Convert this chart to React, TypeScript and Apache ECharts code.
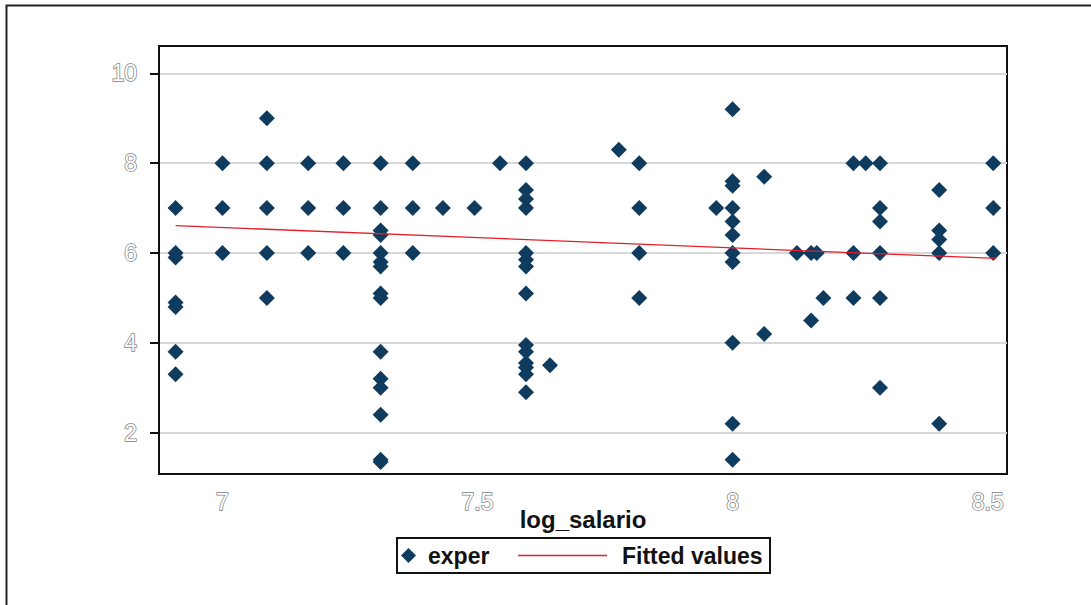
import React, { useEffect, useRef } from "react";
import * as echarts from "echarts";

// log_salario columns and the exper values found at each column
const logSalario: number[] = [
  6.908, 7.0, 7.087, 7.168, 7.237, 7.31, 7.373, 7.432, 7.494, 7.544, 7.595,
  7.642, 7.777, 7.817, 7.968, 8.0, 8.062, 8.126, 8.154, 8.165, 8.178, 8.237,
  8.261, 8.289, 8.405, 8.511,
];
const experByColumn: number[][] = [
  [7, 6, 5.9, 4.9, 4.8, 3.8, 3.3],
  [8, 7, 6],
  [9, 8, 7, 6, 5],
  [8, 7, 6],
  [8, 7, 6],
  [8, 7, 6.5, 6.4, 6, 5.8, 5.7, 5.1, 5.0, 3.8, 3.2, 3.0, 2.4, 1.4, 1.35],
  [8, 7, 6],
  [7],
  [7],
  [8],
  [8, 7.4, 7.2, 7.0, 6.0, 5.85, 5.7, 5.1, 3.95, 3.8, 3.55, 3.45, 3.3, 2.9],
  [3.5],
  [8.3],
  [8, 7, 6, 5],
  [7],
  [9.2, 7.6, 7.5, 7.0, 6.7, 6.4, 6.0, 5.8, 4.0, 2.2, 1.4],
  [7.7, 4.2],
  [6],
  [6, 4.5],
  [6],
  [5],
  [8, 6, 5],
  [8],
  [8, 7, 6.7, 6, 5, 3.0],
  [7.4, 6.5, 6.3, 6, 2.2],
  [8, 7, 6],
];
const fittedX: number[] = [6.908, 8.517];
const fittedY: number[] = [6.61, 5.88];
const xTicks: number[] = [7, 7.5, 8, 8.5];
const yTicks: number[] = [2, 4, 6, 8, 10];

export default function App() {
  const ref = useRef<HTMLDivElement>(null);
  useEffect(() => {
    if (!ref.current) return;
    const chart = echarts.init(ref.current, undefined, { renderer: "svg" });
    const scatterData: number[][] = [];
    logSalario.forEach((x, i) => {
      experByColumn[i].forEach((y) => scatterData.push([x, y]));
    });
    const fittedData = fittedX.map((x, i) => [x, fittedY[i]]);
    const tickLabel = {
      fontFamily: "Liberation Sans, Arial, sans-serif",
      fontSize: 23,
      color: "#ffffff",
      textBorderColor: "#808080",
      textBorderWidth: 1.5,
    };
    const legendText = {
      fontFamily: "Liberation Sans, Arial, sans-serif",
      fontSize: 23,
      fontWeight: "bold",
      color: "#111111",
    };
    chart.setOption({
      animation: false,
      backgroundColor: "#ffffff",
      grid: {
        left: 159,
        right: 84,
        top: 46,
        bottom: 131,
        show: true,
        borderColor: "#111111",
        borderWidth: 2,
        backgroundColor: "#ffffff",
      },
      xAxis: {
        type: "value",
        min: 6.8755,
        max: 8.538,
        name: "log_salario",
        nameLocation: "middle",
        nameGap: 33,
        nameMoveOverlap: false,
        nameTextStyle: {
          fontFamily: "Liberation Sans, Arial, sans-serif",
          fontSize: 24,
          fontWeight: "bold",
          color: "#111111",
        },
        axisLine: { show: true, lineStyle: { color: "#111111", width: 2 } },
        axisTick: { show: false, customValues: xTicks },
        axisLabel: { ...tickLabel, margin: 16, customValues: xTicks },
        splitLine: { show: false },
      },
      yAxis: {
        type: "value",
        min: 1.081,
        max: 10.608,
        axisLine: { show: true, lineStyle: { color: "#111111", width: 2 } },
        axisTick: {
          show: true,
          length: 9,
          customValues: yTicks,
          lineStyle: { color: "#111111", width: 2 },
        },
        axisLabel: { ...tickLabel, margin: 22, customValues: yTicks },
        splitLine: { show: true, lineStyle: { color: "#d8d8d8", width: 2 } },
      },
      legend: [
        {
          data: [{ name: "exper", icon: "diamond" }],
          left: 401,
          top: 544,
          itemWidth: 15,
          itemHeight: 15,
          padding: 0,
          textStyle: { ...legendText, padding: [0, 0, 0, 7] },
        },
        {
          data: [{ name: "Fitted values", icon: "path://M0,0H89V1.5H0Z" }],
          left: 518,
          top: 544,
          itemWidth: 89,
          itemHeight: 15,
          symbolKeepAspect: true,
          padding: 0,
          textStyle: { ...legendText, padding: [0, 0, 0, 10] },
        },
      ],
      graphic: [
        {
          type: "rect",
          shape: { x: 6.5, y: 5.5, width: 1200, height: 700 },
          style: { fill: "none", stroke: "#222222", lineWidth: 2 },
          silent: true,
        },
        {
          type: "rect",
          shape: { x: 397, y: 538, width: 373, height: 35 },
          style: { fill: "none", stroke: "#111111", lineWidth: 2 },
          silent: true,
        },
      ],
      series: [
        {
          name: "exper",
          type: "scatter",
          symbol: "diamond",
          symbolSize: 16,
          itemStyle: { color: "#0f3b5e", opacity: 1 },
          data: scatterData,
          z: 3,
        },
        {
          name: "Fitted values",
          type: "line",
          symbol: "none",
          lineStyle: { color: "#e3202a", width: 1.3 },
          itemStyle: { color: "#e3202a" },
          data: fittedData,
          z: 4,
        },
      ],
    });
    return () => chart.dispose();
  }, []);
  return (
    <div
      ref={ref}
      style={{ position: "absolute", left: 0, top: 0, width: 1091, height: 605 }}
    />
  );
}
